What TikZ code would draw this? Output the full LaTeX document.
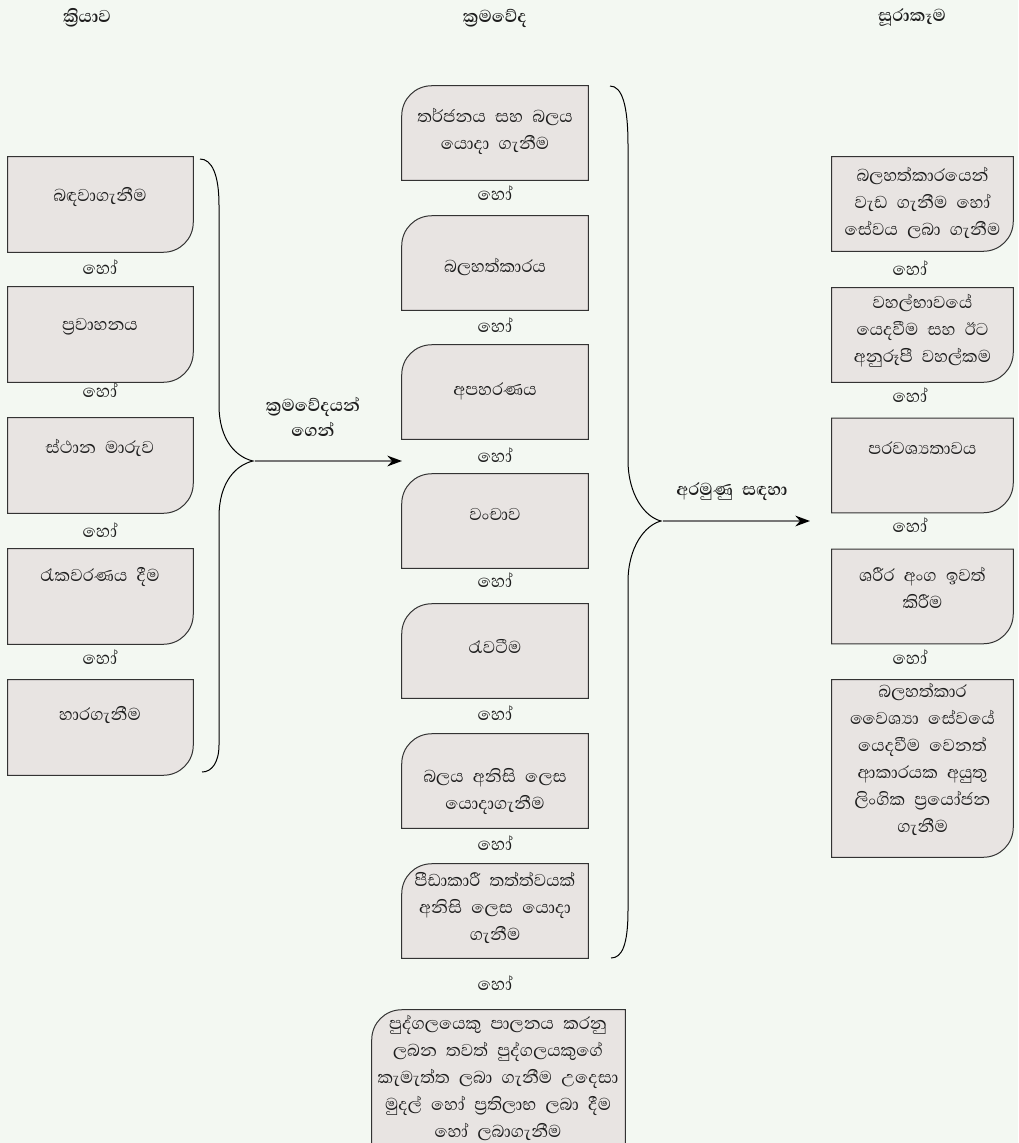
\documentclass[tikz,border=0pt]{standalone}
\usepackage{fontspec}
\newfontfamily\sinfont[Script=Sinhala]{Abhaya Libre}
\usetikzlibrary{arrows.meta}
\definecolor{bg}{HTML}{F3F8F2}
\definecolor{boxfill}{HTML}{E8E4E2}
\definecolor{boxline}{HTML}{333333}
\definecolor{txt}{HTML}{1E1E1E}
\definecolor{arrowgray}{HTML}{777777}
\newcommand\sinbody{\sinfont\fontsize{16.5}{20.25}\selectfont\spaceskip=0.42em plus 0.1em\relax}
\newcommand\sinhead{\sinfont\bfseries\fontsize{16.5}{19}\selectfont\spaceskip=0.42em plus 0.1em\relax}
\newcommand\cardBR[1]{\filldraw[cardline] (#1.north west) -- (#1.north east) -- ([yshift=22.5pt]#1.south east) .. controls ([yshift=10pt]#1.south east) and ([xshift=-10pt]#1.south east) .. ([xshift=-22.5pt]#1.south east) -- (#1.south west) -- cycle;}
\newcommand\cardTL[1]{\filldraw[cardline] ([yshift=-22.5pt]#1.north west) .. controls ([yshift=-10pt]#1.north west) and ([xshift=10pt]#1.north west) .. ([xshift=22.5pt]#1.north west) -- (#1.north east) -- (#1.south east) -- (#1.south west) -- cycle;}
\begin{document}
\begin{tikzpicture}[x=0.75pt,y=-0.75pt,
  cardbox/.style 2 args={minimum width=#1, minimum height=#2, inner sep=0pt, draw=none},
  cardline/.style={fill=boxfill, draw=boxline, line width=0.75pt},
  lbl/.style={text=txt, align=center, inner sep=0pt, font=\sinbody},
  hd/.style={text=txt, align=center, inner sep=0pt, font=\sinhead},
  orlbl/.style={text=txt, inner sep=0pt, font=\sinfont\fontsize{17}{18}\selectfont},
  brace/.style={draw=black, line width=0.75pt},
  conn/.style={draw=arrowgray, line width=1.5pt, -{Stealth[length=11pt,width=8pt,color=black]}}
]
\clip (0,0) rectangle (1018,1143);
\fill[bg] (0,0) rectangle (1018,1143);

% headers
\node[hd] (h1) at (87,18) {ක්^^^^200dරියාව};
\node[hd] (h2) at (495,18) {ක්^^^^200dරමවේද};
\node[hd] (h3) at (912,18) {සූරාකෑම};

% left column boxes
\node[cardbox={138.75pt}{71.25pt}] (l1) at (100.5,204.5) {};
\node[cardbox={138.75pt}{71.25pt}] (l2) at (100.5,334.5) {};
\node[cardbox={138.75pt}{71.25pt}] (l3) at (100.5,465.5) {};
\node[cardbox={138.75pt}{71.25pt}] (l4) at (100.5,596.5) {};
\node[cardbox={138.75pt}{71.25pt}] (l5) at (100.5,727.5) {};
\cardBR{l1}\cardBR{l2}\cardBR{l3}\cardBR{l4}\cardBR{l5}
\node[lbl] (l1t) at (100,197) {බඳවාගැනීම};
\node[lbl] (l2t) at (100,327) {ප්^^^^200dරවාහනය};
\node[lbl] (l3t) at (100,448) {ස්ථාන මාරුව};
\node[lbl] (l4t) at (100,577) {රැකවරණය දීම};
\node[lbl] (l5t) at (100,715) {හාරගැනීම};
\node[orlbl] (lo1) at (100,267) {හෝ};
\node[orlbl] (lo2) at (100,390) {හෝ};
\node[orlbl] (lo3) at (100,530) {හෝ};
\node[orlbl] (lo4) at (100,657) {හෝ};

% middle column boxes
\node[cardbox={139.5pt}{70.5pt}] (m1) at (495,133) {};
\node[cardbox={139.5pt}{70.5pt}] (m2) at (495,263) {};
\node[cardbox={139.5pt}{70.5pt}] (m3) at (495,392) {};
\node[cardbox={139.5pt}{70.5pt}] (m4) at (495,521) {};
\node[cardbox={139.5pt}{70.5pt}] (m5) at (495,651) {};
\node[cardbox={139.5pt}{70.5pt}] (m6) at (495,781) {};
\node[cardbox={139.5pt}{70.5pt}] (m7) at (495,911) {};
\node[cardbox={189.75pt}{112.5pt}] (mb) at (498.5,1085) {};
\cardTL{m1}\cardTL{m2}\cardTL{m3}\cardTL{m4}\cardTL{m5}\cardTL{m6}\cardTL{m7}\cardTL{mb}
\node[lbl] (m1t) at (495,131.5) {තර්ජනය සහ බලය\\යොදා ගැනීම};
\node[lbl] (m2t) at (495,267) {බලහත්කාරය};
\node[lbl] (m3t) at (495,391) {අපහරණය};
\node[lbl] (m4t) at (495,514) {වංචාව};
\node[lbl] (m5t) at (495,646) {රැවටීම};
\node[lbl] (m6t) at (495,791.5) {බලය අනිසි ලෙස\\යොදාගැනීම};
\node[lbl] (m7t) at (495,908) {පීඩාකාරී තත්ත්වයක්\\අනිසි ලෙස යොදා\\ගැනීම};
\node[lbl] (mbt) at (498,1078) {පුද්ගලයෙකු පාලනය කරනු\\ලබන තවත් පුද්ගලයකුගේ\\කැමැත්ත ලබා ගැනීම උදෙසා\\මුදල් හෝ ප්^^^^200dරතිලාභ ලබා දීම\\හෝ ලබාගැනීම};
\node[orlbl] (mo1) at (495,193) {හෝ};
\node[orlbl] (mo2) at (495,325) {හෝ};
\node[orlbl] (mo3) at (495,455) {හෝ};
\node[orlbl] (mo4) at (495,580) {හෝ};
\node[orlbl] (mo5) at (495,713) {හෝ};
\node[orlbl] (mo6) at (495,843) {හෝ};
\node[orlbl] (mo7) at (495,983) {හෝ};

% right column boxes
\node[cardbox={135.75pt}{70.5pt}] (r1) at (922.5,204) {};
\node[cardbox={135.75pt}{70.5pt}] (r2) at (922.5,335) {};
\node[cardbox={135.75pt}{70.5pt}] (r3) at (922.5,465.5) {};
\node[cardbox={135.75pt}{70.5pt}] (r4) at (922.5,596.5) {};
\node[cardbox={135.75pt}{132.75pt}] (r5) at (922.5,768.5) {};
\cardBR{r1}\cardBR{r2}\cardBR{r3}\cardBR{r4}\cardBR{r5}
\node[lbl] (r1t) at (922.5,203) {බලහත්කාරයෙන්\\වැඩ ගැනීම හෝ\\සේවය ලබා ගැනීම};
\node[lbl] (r2t) at (922.5,331) {වහල්භාවයේ\\යෙදවීම සහ ඊට\\අනුරූපී වහල්කම};
\node[lbl] (r3t) at (922.5,448) {පරවශ්^^^^200dයතාවය};
\node[lbl] (r4t) at (922.5,587.5) {ශරීර අංග ඉවත්\\කිරීම};
\node[lbl] (r5t) at (922.5,759) {බලහත්කාර\\වෛශ්^^^^200dයා සේවයේ\\යෙදවීම වෙනත්\\ආකාරයක අයුතු\\ලිංගික ප්^^^^200dරයෝජන\\ගැනීම};
\node[orlbl] (ro1) at (910,268) {හෝ};
\node[orlbl] (ro2) at (910,395) {හෝ};
\node[orlbl] (ro3) at (910,525) {හෝ};
\node[orlbl] (ro4) at (910,657) {හෝ};

% braces
\coordinate (lbtip) at (253,461);
\coordinate (mbtip) at (661,521);
\draw[brace] (200,159) .. controls (212,159) and (219,175) .. (219,205) -- (219,405) .. controls (219,440) and (236,457) .. (lbtip) .. controls (236,465) and (219,482) .. (219,517) -- (219,745) .. controls (219,762) and (212,772) .. (202,772);
\draw[brace] (610,86) .. controls (622,86) and (628,105) .. (628,145) -- (628,460) .. controls (628,495) and (645,517) .. (mbtip) .. controls (645,525) and (628,547) .. (628,582) -- (628,910) .. controls (628,945) and (622,958) .. (611,958);

% connectors
\coordinate (a1end) at (402,461);
\coordinate (a2end) at (810,521);
\draw[conn] ([xshift=1.5pt]lbtip) -- (a1end);
\draw[conn] ([xshift=1.5pt]mbtip) -- (a2end);
\node[hd] (a1lbl) at (313,417) {ක්^^^^200dරමවේදයන්\\ගෙන්};
\node[hd] (a2lbl) at (732,492) {අරමුණු සඳහා};
\end{tikzpicture}
\end{document}
